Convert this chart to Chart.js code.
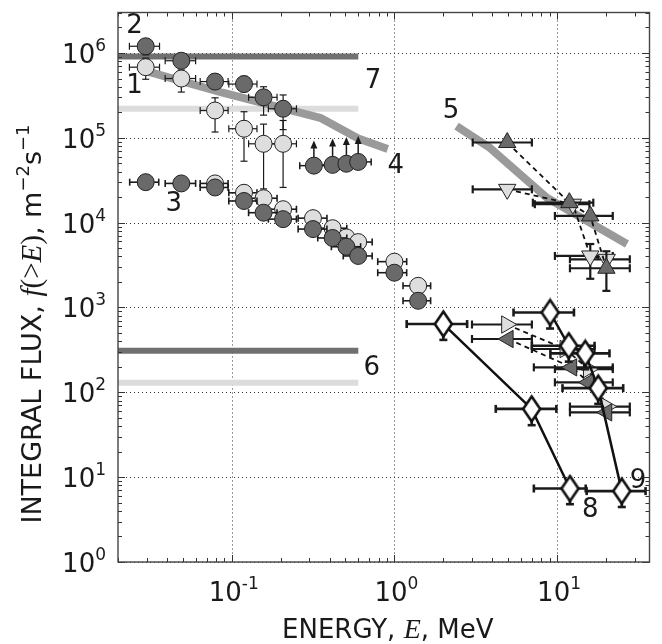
<!DOCTYPE html>
<html>
<head>
<meta charset="utf-8">
<script src="https://cdn.jsdelivr.net/npm/chart.js@4.4.1/dist/chart.umd.min.js"></script>
<style>
html, body { margin: 0; padding: 0; background: #fff; }
canvas { display: block; }
</style>
</head>
<body>
<canvas id="fluxChart" width="662" height="644"></canvas>
<script>
// upper circles: 1 (light) and 2 (dark)
const upE   = [0.0296, 0.049, 0.079, 0.119, 0.157, 0.207];
const upELo = [0.0235, 0.039, 0.064, 0.096, 0.127, 0.168];
const upEHi = [0.036, 0.060, 0.095, 0.143, 0.19, 0.25];
const s1F   = [6.8e5, 5.0e5, 2.1e5, 1.28e5, 8.5e4, 8.5e4];
const s1FHi = [8.7e5, 6.3e5, 2.96e5, 2.03e5, 1.45e5, 1.6e5];
const s1FLo = [4.9e5, 3.46e5, 1.17e5, 5.3e4, 2.5e4, 2.6e4];
const s2F   = [1.2e6, 8.1e5, 4.6e5, 4.3e5, 3.0e5, 2.2e5];
const s2FHi = [1.35e6, 9.0e5, 5.6e5, 5.3e5, 4.0e5, 3.2e5];
const s2FLo = [9.5e5, 7.2e5, 3.8e5, 3.5e5, 1.85e5, 1.25e5];

// lower circles: 3 (dark) with light companions
const lowE   = [0.0296, 0.049, 0.079, 0.119, 0.157, 0.207, 0.316, 0.417, 0.507, 0.599, 1.0, 1.40];
const lowELo = [0.0236, 0.039, 0.064, 0.096, 0.127, 0.168, 0.256, 0.338, 0.41, 0.485, 0.79, 1.13];
const lowEHi = [0.0356, 0.060, 0.095, 0.143, 0.19, 0.25, 0.385, 0.51, 0.62, 0.73, 1.19, 1.67];
const s3F    = [3.0e4, 2.9e4, 2.6e4, 1.8e4, 1.31e4, 1.1e4, 8.4e3, 6.6e3, 5.2e3, 4.05e3, 2.57e3, 1.2e3];
const s3lE   = [0.079, 0.119, 0.157, 0.207, 0.316, 0.417, 0.507, 0.599, 1.0, 1.40];
const s3lELo = [0.064, 0.096, 0.127, 0.168, 0.256, 0.338, 0.41, 0.485, 0.79, 1.13];
const s3lEHi = [0.095, 0.143, 0.19, 0.25, 0.385, 0.51, 0.62, 0.73, 1.19, 1.67];
const s3lF   = [2.9e4, 2.25e4, 1.94e4, 1.44e4, 1.13e4, 8.6e3, 6.7e3, 5.9e3, 3.47e3, 1.8e3];

// lower limits with arrows (4)
const limE   = [0.32, 0.417, 0.507, 0.599];
const limELo = [0.262, 0.34, 0.41, 0.49];
const limEHi = [0.39, 0.51, 0.62, 0.72];
const limF   = [4.7e4, 4.8e4, 4.95e4, 5.2e4];
const limTo  = [9.3e4, 9.8e4, 1.02e5, 1.05e5];

// thick grey model curves (4 and 5)
const curve4E = [0.031, 0.088, 0.35, 0.6, 0.91];
const curve4F = [6.0e5, 3.4e5, 1.72e5, 9.8e4, 7.4e4];
const curve5E = [2.41, 3.87, 8.65, 26.9];
const curve5F = [1.37e5, 7.6e4, 1.97e4, 5.6e3];

// horizontal levels (6 and 7)
const levelE = [0.02, 0.6];
const level7Dark = [9.1e5, 9.1e5];
const level7Light = [2.2e5, 2.2e5];
const level6Dark = [310, 310];
const level6Light = [130, 130];

// triangles, up (dark) and down (light)
const triUpE   = [4.94, 11.9, 16.0, 20.1];
const triUpELo = [3.03, 7.1, 9.7, 12.0];
const triUpEHi = [7.0, 16.7, 22, 28];
const triUpF   = [8.8e4, 1.72e4, 1.2e4, 2.9e3];
const triUpFHi = [null, null, null, 4.6e3];
const triUpFLo = [null, null, null, 1.57e3];
const triDnE   = [4.94, 12.5, 16.0, 20.2];
const triDnELo = [3.03, 7.3, 9.7, 12.0];
const triDnEHi = [7.0, 15.8, 22, 28];
const triDnF   = [2.47e4, 1.65e4, 4.05e3, 3.7e3];
const triDnFHi = [null, null, 5.6e3, null];
const triDnFLo = [null, null, 2.18e3, null];

// triangles, right (light) and left (dark)
const triRE   = [4.9, 11.2, 15.6, 20.2];
const triRELo = [3.0, 7.0, 9.7, 12.0];
const triREHi = [7.0, 17, 22, 28];
const triRF   = [630, 324, 188, 68];
const triLE   = [5.0, 12.3, 15.6, 20.2];
const triLELo = [3.0, 7.2, 9.7, 12.0];
const triLEHi = [7.0, 22, 22, 28];
const triLF   = [425, 197, 131, 58];

// diamonds (8 and 9)
const dia8E   = [2.0, 6.98, 12.0];
const dia8ELo = [1.19, 4.2, 7.2];
const dia8EHi = [2.8, 9.9, 15];
const dia8F   = [638, 63.8, 7.35];
const dia8FLo = [415, 41, 4.8];
const dia9E   = [9.06, 11.8, 14.9, 17.9, 25];
const dia9ELo = [5.4, 7.0, 9.1, 10.8, 15.2];
const dia9EHi = [12.7, 17, 21, 25.5, 35];
const dia9F   = [873, 354, 288, 112, 6.85];
const dia9FLo = [565, 230, 187, 73, 4.45];

// curve numbers
const tagText = ['1', '2', '3', '4', '5', '6', '7', '8', '9'];
const tagE = [0.0253, 0.0253, 0.044, 1.02, 2.23, 0.727, 0.738, 16.0, 31.5];
const tagF = [4.06e5, 2.06e6, 1.66e4, 4.64e4, 2.06e5, 190, 4.64e5, 4.06, 9.06];

const xTicks = [0.1, 1, 10];
const yTicks = [1, 10, 100, 1e3, 1e4, 1e5, 1e6];

const DARK = '#6a6a6a';
const LIGHT = '#dedede';
const SANS = '"DejaVu Sans"';
const SERIF = '"Liberation Serif"';

function pts(xs, ys) {
  return xs.map((x, i) => ({ x: x, y: ys[i] }));
}

function diamondImg() {
  const c = document.createElement('canvas');
  c.width = 21; c.height = 30;
  const g = c.getContext('2d');
  g.beginPath();
  g.moveTo(10.5, 2.5); g.lineTo(19, 15); g.lineTo(10.5, 27.5); g.lineTo(2, 15);
  g.closePath();
  g.fillStyle = '#fff';
  g.fill();
  g.lineWidth = 2.6;
  g.strokeStyle = '#111';
  g.stroke();
  return c;
}
const diamond = diamondImg();

function circles(xs, ys, fill, order, err) {
  return {
    data: pts(xs, ys), order: order, showLine: false,
    pointStyle: 'circle', pointRadius: 8.5,
    pointBackgroundColor: fill, pointBorderColor: '#222', pointBorderWidth: 1,
    err: err
  };
}

function triangles(xs, ys, fill, rot, err) {
  return {
    data: pts(xs, ys), order: 2, showLine: true,
    borderColor: '#111', borderWidth: 1.8, borderDash: [5, 4],
    pointStyle: 'triangle', pointRadius: 10, pointRotation: rot,
    pointBackgroundColor: fill, pointBorderColor: '#222', pointBorderWidth: 1,
    err: err
  };
}

function diamonds(xs, ys, err) {
  return {
    data: pts(xs, ys), order: 1, showLine: true,
    borderColor: '#111', borderWidth: 2.5,
    pointStyle: diamond, pointRadius: 10,
    err: err
  };
}

function band(xs, ys, color, width) {
  return {
    data: pts(xs, ys), order: 10, showLine: true, pointRadius: 0,
    borderColor: color, borderWidth: width, borderCapStyle: 'butt', borderJoinStyle: 'round'
  };
}

const datasets = [
  diamonds(dia9E, dia9F, { xLo: dia9ELo, xHi: dia9EHi, yLo: dia9FLo, width: 2.6, cap: 8 }),
  diamonds(dia8E, dia8F, { xLo: dia8ELo, xHi: dia8EHi, yLo: dia8FLo, width: 2.6, cap: 8 }),
  triangles(triLE, triLF, DARK, -90, { xLo: triLELo, xHi: triLEHi, width: 2.2, cap: 8 }),
  triangles(triRE, triRF, LIGHT, 90, { xLo: triRELo, xHi: triREHi, width: 2.2, cap: 8 }),
  triangles(triUpE, triUpF, DARK, 0, { xLo: triUpELo, xHi: triUpEHi, yLo: triUpFLo, yHi: triUpFHi, width: 2.2, cap: 8 }),
  triangles(triDnE, triDnF, LIGHT, 180, { xLo: triDnELo, xHi: triDnEHi, yLo: triDnFLo, yHi: triDnFHi, width: 2.2, cap: 8 }),
  circles(limE, limF, DARK, 3, { xLo: limELo, xHi: limEHi, arrowTo: limTo, width: 1.5, cap: 7 }),
  circles(upE, s2F, DARK, 3, { xLo: upELo, xHi: upEHi, yLo: s2FLo, yHi: s2FHi, width: 1.2, cap: 7 }),
  circles(upE, s1F, LIGHT, 4, { xLo: upELo, xHi: upEHi, yLo: s1FLo, yHi: s1FHi, width: 1.2, cap: 7 }),
  circles(lowE, s3F, DARK, 5, { xLo: lowELo, xHi: lowEHi, width: 1.6, cap: 7 }),
  circles(s3lE, s3lF, LIGHT, 6, { xLo: s3lELo, xHi: s3lEHi, width: 1.6, cap: 7 }),
  band(curve4E, curve4F, '#9a9a9a', 8),
  band(curve5E, curve5F, '#9a9a9a', 8),
  band(levelE, level7Dark, '#707070', 6),
  band(levelE, level7Light, '#dcdcdc', 6),
  band(levelE, level6Dark, '#707070', 6),
  band(levelE, level6Light, '#dcdcdc', 6)
];

// error bars and arrows, drawn right under each dataset's markers
const errorBars = {
  id: 'errorBars',
  beforeDatasetDraw(chart, args) {
    const ds = chart.data.datasets[args.index];
    const e = ds.err;
    if (!e) return;
    const { ctx } = chart;
    const xs = chart.scales.x, ys = chart.scales.y;
    ctx.save();
    ctx.strokeStyle = '#1a1a1a';
    ctx.fillStyle = '#1a1a1a';
    ctx.lineWidth = e.width;
    ctx.setLineDash([]);
    const seg = (x1, y1, x2, y2) => { ctx.beginPath(); ctx.moveTo(x1, y1); ctx.lineTo(x2, y2); ctx.stroke(); };
    const h = e.cap / 2;
    ds.data.forEach((p, i) => {
      const px = xs.getPixelForValue(p.x), py = ys.getPixelForValue(p.y);
      if (e.xLo) {
        const a = xs.getPixelForValue(e.xLo[i]), b = xs.getPixelForValue(e.xHi[i]);
        seg(a, py, b, py);
        seg(a, py - h, a, py + h);
        seg(b, py - h, b, py + h);
      }
      if (e.yHi && e.yHi[i]) {
        const t = ys.getPixelForValue(e.yHi[i]);
        seg(px, py, px, t);
        seg(px - h, t, px + h, t);
      }
      if (e.yLo && e.yLo[i]) {
        const b = ys.getPixelForValue(e.yLo[i]);
        seg(px, py, px, b);
        seg(px - h, b, px + h, b);
      }
      if (e.arrowTo) {
        const t = ys.getPixelForValue(e.arrowTo[i]);
        seg(px, py, px, t + 6);
        ctx.beginPath();
        ctx.moveTo(px, t); ctx.lineTo(px - 3.5, t + 8); ctx.lineTo(px + 3.5, t + 8);
        ctx.closePath();
        ctx.fill();
      }
    });
    ctx.restore();
  }
};

function minorValues(lo, hi) {
  const out = [];
  for (let d = Math.floor(Math.log10(lo)); d <= Math.ceil(Math.log10(hi)); d++) {
    for (let k = 1; k <= 9; k++) {
      const v = k * Math.pow(10, d);
      if (v >= lo && v <= hi) out.push({ v: v, major: k === 1 });
    }
  }
  return out;
}

function drawRuns(ctx, runs, x, y) {
  let cx = x;
  runs.forEach(r => {
    ctx.font = r.font;
    ctx.fillText(r.t, cx, y + (r.dy || 0));
    cx += ctx.measureText(r.t).width;
  });
}

function runsWidth(ctx, runs) {
  let w = 0;
  runs.forEach(r => { ctx.font = r.font; w += ctx.measureText(r.t).width; });
  return w;
}

function powRuns(v) {
  const ex = Math.round(Math.log10(v));
  return [
    { t: '10', font: '26px ' + SANS },
    { t: String(ex), font: '17px ' + SANS, dy: -12 }
  ];
}

// grid, frame, ticks, tick labels and axis titles
const frame = {
  id: 'frame',
  beforeDatasetsDraw(chart) {
    const { ctx, chartArea: a } = chart;
    const xs = chart.scales.x, ys = chart.scales.y;
    ctx.save();
    ctx.strokeStyle = '#333';
    ctx.lineWidth = 1;
    ctx.setLineDash([1, 3]);
    xTicks.forEach(v => {
      const px = Math.round(xs.getPixelForValue(v)) + 0.5;
      ctx.beginPath(); ctx.moveTo(px, a.top); ctx.lineTo(px, a.bottom); ctx.stroke();
    });
    yTicks.forEach(v => {
      const py = Math.round(ys.getPixelForValue(v)) + 0.5;
      ctx.beginPath(); ctx.moveTo(a.left, py); ctx.lineTo(a.right, py); ctx.stroke();
    });
    ctx.restore();
  },
  afterDraw(chart) {
    const { ctx, chartArea: a } = chart;
    const xs = chart.scales.x, ys = chart.scales.y;
    ctx.save();
    ctx.strokeStyle = '#333';
    ctx.lineWidth = 1;
    minorValues(xs.min, xs.max).forEach(m => {
      const px = Math.round(xs.getPixelForValue(m.v)) + 0.5;
      const len = m.major ? 7 : 4;
      ctx.beginPath();
      ctx.moveTo(px, a.bottom); ctx.lineTo(px, a.bottom - len);
      ctx.moveTo(px, a.top); ctx.lineTo(px, a.top + len);
      ctx.stroke();
    });
    minorValues(ys.min, ys.max).forEach(m => {
      const py = Math.round(ys.getPixelForValue(m.v)) + 0.5;
      const len = m.major ? 7 : 4;
      ctx.beginPath();
      ctx.moveTo(a.left, py); ctx.lineTo(a.left + len, py);
      ctx.moveTo(a.right, py); ctx.lineTo(a.right - len, py);
      ctx.stroke();
    });
    ctx.strokeStyle = '#444';
    ctx.lineWidth = 1.4;
    ctx.strokeRect(a.left, a.top, a.right - a.left, a.bottom - a.top);

    ctx.fillStyle = '#1a1a1a';
    ctx.textBaseline = 'alphabetic';
    ctx.textAlign = 'left';
    yTicks.forEach(v => {
      const runs = powRuns(v);
      const w = runsWidth(ctx, runs);
      drawRuns(ctx, runs, 106 - w, ys.getPixelForValue(v) + 10);
    });
    xTicks.forEach(v => {
      const runs = powRuns(v);
      const w = runsWidth(ctx, runs);
      drawRuns(ctx, runs, xs.getPixelForValue(v) - w / 2 + 2, 601);
    });

    const xTitle = [
      { t: 'ENERGY, ', font: '26px ' + SANS },
      { t: 'E', font: 'italic 28px ' + SERIF },
      { t: ', MeV', font: '26px ' + SANS }
    ];
    const xw = runsWidth(ctx, xTitle);
    drawRuns(ctx, xTitle, (a.left + a.right) / 2 - xw / 2 + 4, 638);

    const yTitle = [
      { t: 'INTEGRAL FLUX, ', font: '27px ' + SANS },
      { t: 'f', font: 'italic 29px ' + SERIF },
      { t: '(>', font: '29px ' + SERIF },
      { t: 'E', font: 'italic 29px ' + SERIF },
      { t: ')', font: '29px ' + SERIF },
      { t: ', m', font: '27px ' + SANS },
      { t: '\u22122', font: '18px ' + SANS, dy: -12 },
      { t: 's', font: '27px ' + SANS },
      { t: '\u22121', font: '18px ' + SANS, dy: -12 }
    ];
    const yw = runsWidth(ctx, yTitle);
    ctx.translate(41, 324);
    ctx.rotate(-Math.PI / 2);
    drawRuns(ctx, yTitle, -yw / 2, 0);
    ctx.restore();
  }
};

// curve numbers placed on the data scales
const tags = {
  id: 'tags',
  afterDatasetsDraw(chart) {
    const { ctx } = chart;
    const xs = chart.scales.x, ys = chart.scales.y;
    ctx.save();
    ctx.fillStyle = '#1a1a1a';
    ctx.font = '26px ' + SANS;
    ctx.textAlign = 'center';
    ctx.textBaseline = 'middle';
    tagText.forEach((t, i) => {
      ctx.fillText(t, xs.getPixelForValue(tagE[i]), ys.getPixelForValue(tagF[i]));
    });
    ctx.restore();
  }
};

new Chart(document.getElementById('fluxChart').getContext('2d'), {
  type: 'scatter',
  data: { datasets: datasets },
  options: {
    responsive: false,
    animation: false,
    events: [],
    layout: { padding: { top: 11, right: 12, left: 0, bottom: 0 } },
    plugins: { legend: { display: false }, tooltip: { enabled: false } },
    scales: {
      x: {
        type: 'logarithmic', min: 0.02, max: 37,
        grid: { display: false }, border: { display: false },
        ticks: { display: false },
        afterFit(s) { s.height = 82; }
      },
      y: {
        type: 'logarithmic', min: 1, max: 3e6,
        grid: { display: false }, border: { display: false },
        ticks: { display: false },
        afterFit(s) { s.width = 118; }
      }
    }
  },
  plugins: [errorBars, frame, tags]
});
</script>
</body>
</html>
